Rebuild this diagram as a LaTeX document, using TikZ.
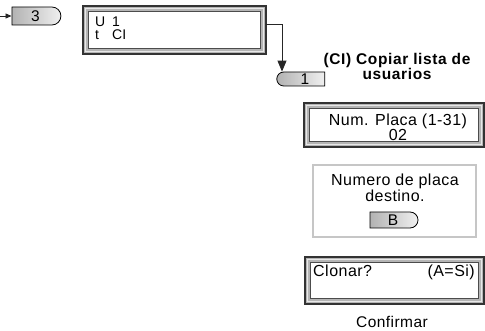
\documentclass[tikz,border=0pt]{standalone}
\usepackage{fontspec}
\setmainfont{Liberation Sans}
\usetikzlibrary{shapes.misc,arrows.meta,calc}
\newcommand\lcdframe[1]{%
  \draw[gray!18, line width=1.3pt] ($(#1.north west)+(2.7pt,-2.7pt)$) rectangle ($(#1.south east)+(-2.7pt,2.7pt)$);
  \draw[fill=white, draw=black!70, line width=0.9pt] ($(#1.north west)+(5.6pt,-5.6pt)$) rectangle ($(#1.south east)+(-5.6pt,5.6pt)$);}
\begin{document}
\begin{tikzpicture}[x=1pt,y=-1pt,
  lcd/.style={rectangle, draw=black!80, line width=1.3pt, fill=gray!58, inner sep=0pt, outer sep=0pt},
  keyR/.style={rounded rectangle, rounded rectangle west arc=none, rounded rectangle east arc=convex,
    draw=black, line width=0.8pt, left color=gray!60, right color=gray!12,
    inner sep=0pt, font=\fontsize{15.5}{15.5}\selectfont},
  keyL/.style={rounded rectangle, rounded rectangle west arc=convex, rounded rectangle east arc=none,
    draw=black, line width=0.8pt, left color=gray!60, right color=gray!12,
    inner sep=0pt, font=\fontsize{15.5}{15.5}\selectfont},
  lcdtxt/.style={inner sep=0pt, align=center, font=\fontsize{16}{14}\selectfont\addfontfeature{LetterSpace=3}},
  smalltxt/.style={inner sep=0pt, align=left, font=\fontsize{14}{13}\selectfont},
  titletxt/.style={inner sep=0pt, align=center, font=\fontsize{15.5}{13}\selectfont\bfseries\addfontfeature{LetterSpace=4}},
  conn/.style={draw=black!85, line width=0.9pt}]
\useasboundingbox (0,0) rectangle (485,331);

% key 3 and entry arrow
\coordinate (start) at (0,16);
\node[keyR, minimum width=49pt, minimum height=18pt] (key3) at (35.5,16) {3};
\draw[conn, -{Triangle[length=6pt,width=5pt]}] (start) -- (key3.west);

% LCD 1
\node[lcd, minimum width=183pt, minimum height=48pt] (lcd1) at (174.5,30) {};
\lcdframe{lcd1}
\node[smalltxt, anchor=north west] (l1) at (95,17) {\makebox[17pt][l]{U}1\\\makebox[17pt][l]{t}CI};

% key 1
\node[keyL, minimum width=48pt, minimum height=14pt] (key1) at (302,79) {\hspace*{6pt}1};
\draw[conn, -{Triangle[length=11pt,width=9pt]}] ([yshift=6pt]lcd1.east) -| ([xshift=-20pt]key1.north);

% title
\node[titletxt, anchor=north] (tt) at (397,52.7) {(CI) Copiar lista de\\usuarios};

% LCD 2
\node[lcd, minimum width=180pt, minimum height=44pt] (lcd2) at (394,125) {};
\lcdframe{lcd2}
\node[lcdtxt, anchor=north] (l2) at (398,113.4) {Num. Placa (1-31)\\02};

% info box
\node[rectangle, draw=gray!45, line width=1.2pt, fill=white, minimum width=163pt, minimum height=72pt, inner sep=0pt] (info) at (394.5,201) {};
\node[lcdtxt, anchor=north] (inf) at (395,173.5) {Numero de placa\\destino.};
\node[keyR, minimum width=48pt, minimum height=16pt] (keyB) at (393,220) {B};

% LCD 3
\node[lcd, minimum width=179pt, minimum height=47pt] (lcd3) at (394.5,280.5) {};
\lcdframe{lcd3}
\node[lcdtxt, anchor=base west] (l3a) at (313,277) {Clonar?};
\node[lcdtxt, anchor=base east] (l3b) at (475,277) {(A=Si)};

\node[inner sep=0pt, anchor=base, font=\fontsize{15.5}{15.5}\selectfont\addfontfeature{LetterSpace=3}] (conf) at (392,327) {Confirmar};
\end{tikzpicture}
\end{document}
